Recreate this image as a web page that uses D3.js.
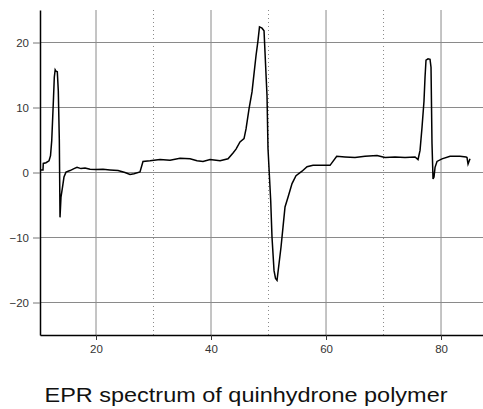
<!DOCTYPE html>
<html>
<head>
<meta charset="utf-8">
<script src="https://cdn.jsdelivr.net/npm/d3@7"></script>
<style>
  body { margin: 0; background: #fff; }
  svg { display: block; }
</style>
</head>
<body>
<svg id="chart"></svg>
<script>
// spectrum (field position, signal)
let fieldX = [10.26, 10.78, 10.83, 11.30, 11.83, 12.09, 12.30, 12.47, 12.61, 12.75, 12.90, 13.04, 13.27, 13.44, 13.62, 13.74,
  13.91, 14.17, 14.43, 14.78, 15.48, 16.17, 16.70, 17.39, 18.09, 18.96, 20.00, 21.22, 22.43, 23.83, 25.04, 25.91, 26.61,
  27.65, 28.17, 29.39, 31.13, 32.87, 34.61, 36.35, 37.57, 38.61, 39.83, 41.57, 42.96, 43.83, 44.35, 45.04, 45.74, 46.09,
  46.61, 47.13, 47.48, 47.83, 48.17, 48.43, 48.87, 49.22, 49.39, 49.57, 49.74, 49.91, 50.38, 50.61, 50.96, 51.22, 51.48,
  51.83, 52.17, 52.52, 52.87, 53.39, 54.09, 54.78, 55.83, 56.70, 57.74, 58.96, 60.70, 61.86, 63.30, 65.04, 66.78, 68.87,
  70.26, 72.00, 73.74, 75.48, 76.00, 76.35, 76.70, 77.04, 77.22, 77.39, 77.74, 78.09, 78.26, 78.43, 78.61, 78.78, 78.96,
  79.30, 80.17, 81.57, 83.30, 84.35, 84.52, 84.70, 85.04]
let signal = [0.4, 0.4, 1.4, 1.5, 1.8, 2.6, 4.9, 8.5, 11.5, 14.7, 15.8, 15.6, 15.5, 12.6, 5.0, -6.9,
  -3.8, -2.3, -0.7, 0.05, 0.3, 0.6, 0.8, 0.6, 0.7, 0.5, 0.45, 0.5, 0.4, 0.3, 0.0, -0.3, -0.2,
  0.1, 1.7, 1.8, 2.0, 1.9, 2.2, 2.1, 1.8, 1.7, 2.0, 1.8, 2.1, 3.0, 3.6, 4.7, 5.2, 6.7,
  9.8, 12.4, 15.2, 18.0, 20.3, 22.4, 22.2, 21.8, 18.5, 15.0, 11.8, 3.7, -4.3, -10.0, -15.1, -16.3, -16.6,
  -14.0, -11.5, -8.4, -5.3, -3.8, -1.7, -0.5, 0.2, 0.9, 1.1, 1.1, 1.1, 2.5, 2.4, 2.3, 2.5, 2.6,
  2.3, 2.4, 2.3, 2.4, 2.0, 3.4, 7.0, 11.0, 14.7, 17.3, 17.5, 17.4, 16.2, 4.5, -1.0, -0.7, 0.8,
  1.7, 2.1, 2.5, 2.5, 2.4, 2.3, 1.3, 2.1]

let xTicks = [20, 40, 60, 80]
let xMinor = [30, 50, 70]
let yTicks = [-20, -10, 0, 10, 20]
let title = 'EPR spectrum of quinhydrone polymer'

let w = 483
let h = 409
let padLeft = 40
let padTop = 10
let axisY = 335

let svg = d3.select('#chart').attr('width', w).attr('height', h)

let xScale = d3.scaleLinear().domain([10.26, 87.3]).range([padLeft, w])
let yScale = d3.scaleLinear().domain([-25, 25]).range([axisY, padTop])

let data = fieldX.map((x, i) => ({x: x, y: signal[i]}))

// grid
svg.append('g').selectAll('line')
   .data(yTicks)
   .enter().append('line')
   .attr('x1', padLeft).attr('x2', w)
   .attr('y1', d => yScale(d)).attr('y2', d => yScale(d))
   .attr('stroke', '#8a8a8a').attr('stroke-width', 1)

svg.append('g').selectAll('line')
   .data(xTicks)
   .enter().append('line')
   .attr('x1', d => xScale(d)).attr('x2', d => xScale(d))
   .attr('y1', padTop).attr('y2', axisY)
   .attr('stroke', '#8a8a8a').attr('stroke-width', 1)

svg.append('g').selectAll('line')
   .data(xMinor)
   .enter().append('line')
   .attr('x1', d => xScale(d)).attr('x2', d => xScale(d))
   .attr('y1', padTop).attr('y2', axisY)
   .attr('stroke', '#8a8a8a').attr('stroke-width', 1)
   .attr('stroke-dasharray', '1,3')

// axes
let xAxis = d3.axisBottom(xScale).tickValues(xTicks).tickSize(5).tickSizeOuter(0)
svg.append('g')
   .attr('transform', 'translate(0,' + axisY + ')')
   .call(xAxis)
   .call(g => g.select('.domain').attr('stroke', '#000').attr('stroke-width', 1.5))
   .call(g => g.selectAll('.tick line').attr('stroke', '#333'))
   .call(g => g.selectAll('.tick text').attr('fill', '#333')
     .attr('font-family', 'Liberation Sans, Arial, sans-serif').attr('font-size', 11.5).attr('dy', '0.9em'))

let yAxis = d3.axisLeft(yScale).tickValues(yTicks).tickSize(7).tickSizeOuter(0)
svg.append('g')
   .attr('transform', 'translate(' + padLeft + ',0)')
   .call(yAxis)
   .call(g => g.select('.domain').attr('stroke', '#000').attr('stroke-width', 1.5))
   .call(g => g.selectAll('.tick line').attr('stroke', '#777'))
   .call(g => g.selectAll('.tick text').attr('fill', '#333').attr('x', -11)
     .attr('font-family', 'Liberation Sans, Arial, sans-serif').attr('font-size', 11.5))

// spectrum
let line = d3.line()
  .x(d => xScale(d.x))
  .y(d => yScale(d.y))

svg.append('path')
   .datum(data)
   .attr('d', line)
   .attr('fill', 'none')
   .attr('stroke', '#000')
   .attr('stroke-width', 1.5)

// caption
svg.append('text')
   .attr('x', 246)
   .attr('y', 402)
   .attr('text-anchor', 'middle')
   .attr('font-family', 'Liberation Sans, Arial, sans-serif')
   .attr('font-size', 20)
   .attr('textLength', 403)
   .attr('lengthAdjust', 'spacingAndGlyphs')
   .attr('fill', '#111')
   .text(title)
</script>
</body>
</html>
